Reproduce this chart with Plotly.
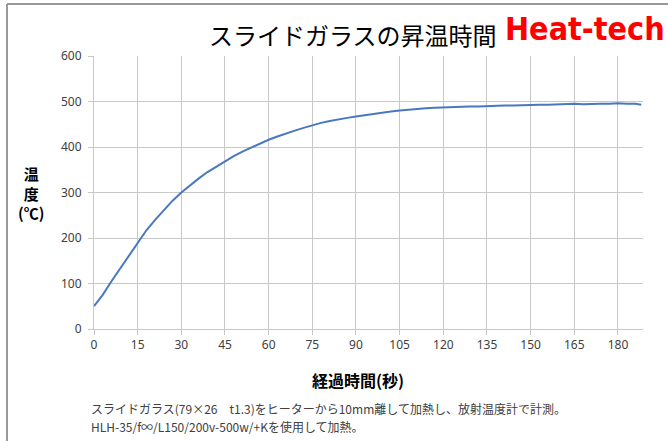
import plotly.graph_objects as go

# Elapsed time (s) and temperature (°C)
time_s = [0, 3, 6, 9, 12, 15, 18, 21, 24, 27, 30, 33, 36, 39, 42, 45, 48, 51, 54, 57,
          60, 63, 66, 69, 72, 75, 78, 81, 84, 87, 90, 93, 96, 99, 102, 105, 108, 111,
          114, 117, 120, 123, 126, 129, 132, 135, 138, 141, 144, 147, 150, 153, 156,
          159, 162, 165, 168, 171, 174, 177, 180, 183, 186, 188]
temp_c = [50, 75, 105, 133, 160, 190, 217, 240, 262, 282, 300, 316, 331, 345, 357, 369,
          380, 390, 399, 408, 416, 423, 430, 436, 442, 448, 453, 457, 461, 464, 467, 470,
          473, 476, 478, 480, 482, 483, 485, 486, 487, 488, 488, 489, 489, 490, 490, 491,
          491, 492, 492, 493, 493, 494, 494, 495, 494, 495, 495, 495, 496, 495, 495, 493]

x_ticks = [0, 15, 30, 45, 60, 75, 90, 105, 120, 135, 150, 165, 180]
y_ticks = [0, 100, 200, 300, 400, 500, 600]

title_text = "スライドガラスの昇温時間"
brand_text = "Heat-tech"
x_title = "経過時間(秒)"
y_title = "温<br>度<br>(℃)"
note_lines = ["スライドガラス(79×26　t1.3)をヒーターから10mm離して加熱し、放射温度計で計測。",
              "HLH-35/f∞/L150/200v-500w/+Kを使用して加熱。"]

W, H = 668, 441
L, R, T, B = 94, 25, 56, 112
pw, ph = W - L - R, H - T - B

def px(x):
    return (x - L) / pw

def py(y):
    return (H - B - y) / ph

fig = go.Figure()
fig.add_trace(go.Scatter(x=time_s, y=temp_c, mode="lines",
                         line=dict(color="#4a78c0", width=2), hoverinfo="x+y"))

grid = "#c8c8c8"
tickfont = dict(family="Noto Sans, DejaVu Sans, sans-serif", size=12, color="#404040")
fig.update_layout(
    width=W, height=H,
    margin=dict(l=L, r=R, t=T, b=B),
    paper_bgcolor="white", plot_bgcolor="white",
    showlegend=False,
    xaxis=dict(range=[0, 188.6], tickvals=x_ticks, showgrid=True, gridcolor=grid,
               gridwidth=1, zeroline=False, showline=True, linecolor=grid,
               ticks="outside", ticklen=5, tickcolor=grid, tickfont=tickfont),
    yaxis=dict(range=[0, 600], tickvals=y_ticks, showgrid=True, gridcolor=grid,
               gridwidth=1, zeroline=False, showline=True, linecolor=grid,
               ticks="outside", ticklen=5, tickcolor=grid, tickfont=tickfont,
               ticklabelstandoff=4),
)

annotations = [
    dict(text=title_text, x=px(353), y=py(34), xref="paper", yref="paper",
         showarrow=False, xanchor="center", yanchor="middle",
         font=dict(family="Noto Sans CJK JP", size=24, color="#000000")),
    dict(text="<b>" + brand_text + "</b>", x=px(585), y=py(29), xref="paper", yref="paper",
         showarrow=False, xanchor="center", yanchor="middle",
         font=dict(family="DejaVu Sans Condensed, Liberation Sans Narrow, sans-serif", size=32,
                   color="#ff0000")),
    dict(text="<b>" + y_title + "</b>", x=px(31), y=py(193), xref="paper", yref="paper",
         showarrow=False, xanchor="center", yanchor="middle",
         font=dict(family="Noto Sans CJK JP", size=15, color="#000000")),
    dict(text="<b>" + x_title + "</b>", x=px(358), y=py(380), xref="paper", yref="paper",
         showarrow=False, xanchor="center", yanchor="middle",
         font=dict(family="Noto Sans CJK JP", size=16, color="#000000")),
]
for i, line in enumerate(note_lines):
    annotations.append(dict(text=line, x=px(89), y=py(408 + 18 * i), xref="paper",
                            yref="paper", showarrow=False, xanchor="left", yanchor="middle",
                            font=dict(family="Noto Sans CJK JP", size=12, color="#404040")))
fig.update_layout(annotations=annotations)

# outer frame (top and left edges visible in the reference)
fig.add_shape(type="line", xref="paper", yref="paper", x0=px(7), x1=px(700), y0=py(4), y1=py(4),
              line=dict(color="#999999", width=2))
fig.add_shape(type="line", xref="paper", yref="paper", x0=px(7), x1=px(7), y0=py(4), y1=py(460),
              line=dict(color="#999999", width=2))

fig.write_html("out.html", config={"displayModeBar": False},
               post_script="document.body.style.margin='0';document.body.style.overflow='hidden';")
